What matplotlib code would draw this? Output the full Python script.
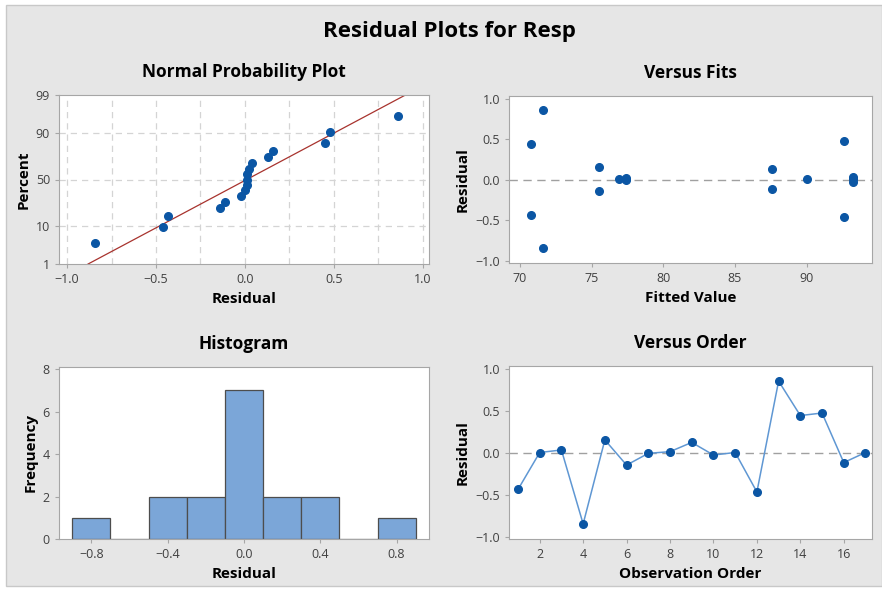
import numpy as np
import matplotlib
matplotlib.use('Agg')
import matplotlib.pyplot as plt
from matplotlib.patches import Rectangle
from statistics import NormalDist

plt.rcParams['font.family'] = ['Open Sans', 'DejaVu Sans']

# data
order = np.arange(1, 18)
resid = [-0.43, 0.01, 0.04, -0.84, 0.16, -0.14, 0.00, 0.02, 0.13,
         -0.02, 0.01, -0.46, 0.86, 0.45, 0.48, -0.11, 0.01]
fits = [70.8, 76.9, 93.2, 71.6, 75.5, 75.5, 77.4, 77.4, 87.6,
        93.2, 90.0, 92.6, 71.6, 70.8, 92.6, 87.6, 93.2]
pct_ticks = [1, 10, 50, 90, 99]
hist_bins = [-0.9, -0.7, -0.5, -0.3, -0.1, 0.1, 0.3, 0.5, 0.7, 0.9]

nd = NormalDist()
z = lambda p: nd.inv_cdf(p / 100.0)

bg = '#e6e6e6'
pt_col = '#0b56a4'
spine_col = '#a6a6a6'
tick_col = '#404040'

fig = plt.figure(figsize=(8.82, 5.89), dpi=100, facecolor='white')
fig.patches.append(Rectangle((6 / 882, 3 / 589), 1 - 6 / 882, 1 - 8 / 589,
                             transform=fig.transFigure, facecolor=bg,
                             edgecolor='#c8c8c8', lw=1, zorder=-1))

fig.text(0.509, 1 - 32 / 589, 'Residual Plots for Resp', ha='center', va='center',
         fontsize=16, fontweight='bold')


def style(ax):
    ax.set_facecolor('white')
    for s in ax.spines.values():
        s.set_color(spine_col)
    ax.tick_params(colors=spine_col, labelcolor=tick_col, labelsize=9, length=3)


def lab(ax, title, xl, yl):
    ax.set_title(title, fontsize=12.5, fontweight='bold', pad=13)
    ax.set_xlabel(xl, fontsize=11, fontweight='bold', labelpad=4)
    ax.set_ylabel(yl, fontsize=11, fontweight='bold', labelpad=4)


# Normal probability plot
ax1 = fig.add_axes([59 / 882, 1 - 264 / 589, 370 / 882, 169 / 589])
style(ax1)
r = np.sort(resid)
n = len(r)
ranks = (np.arange(1, n + 1) - 0.3) / (n + 0.4) * 100
mu, sd = np.mean(resid), np.std(resid, ddof=1)
for xv in np.arange(-1.0, 1.01, 0.25):
    ax1.axvline(xv, color='#d4d4d4', ls=(0, (5, 4)), lw=0.9, zorder=0)
for p in [10, 50, 90]:
    ax1.axhline(z(p), color='#d4d4d4', ls=(0, (5, 4)), lw=0.9, zorder=0)
lx = np.array([mu + sd * z(1), mu + sd * z(99)])
ax1.plot(lx, [z(1), z(99)], color='#a8332e', lw=0.9, zorder=2)
ax1.plot(r, [z(p) for p in ranks], 'o', color=pt_col, ms=5.5, zorder=3)
ax1.set_xlim(-1.045, 1.034)
ax1.set_ylim(z(1), z(99))
ax1.set_xticks([-1.0, -0.5, 0.0, 0.5, 1.0])
ax1.set_yticks([z(p) for p in pct_ticks])
ax1.set_yticklabels([str(p) for p in pct_ticks])
lab(ax1, 'Normal Probability Plot', 'Residual', 'Percent')

# Versus fits
ax2 = fig.add_axes([509 / 882, 1 - 263 / 589, 363 / 882, 167 / 589])
style(ax2)
ax2.axhline(0, color='#a0a0a0', ls=(0, (6, 4)), lw=1, zorder=0)
ax2.plot(fits, resid, 'o', color=pt_col, ms=5.5)
ax2.set_xlim(69.23, 94.56)
ax2.set_ylim(-1.025, 1.037)
ax2.set_xticks([70, 75, 80, 85, 90])
ax2.set_yticks([-1.0, -0.5, 0.0, 0.5, 1.0])
lab(ax2, 'Versus Fits', 'Fitted Value', 'Residual')

# Histogram
ax3 = fig.add_axes([59 / 882, 1 - 539 / 589, 370 / 882, 172 / 589])
style(ax3)
ax3.hist(resid, bins=hist_bins, color='#7ba6d8', edgecolor='#4d4d4d', lw=0.9)
ax3.set_xlim(-0.97, 0.97)
ax3.set_ylim(0, 8.1)
ax3.set_xticks([-0.8, -0.4, 0.0, 0.4, 0.8])
ax3.set_yticks([0, 2, 4, 6, 8])
lab(ax3, 'Histogram', 'Residual', 'Frequency')

# Versus order
ax4 = fig.add_axes([509 / 882, 1 - 539 / 589, 363 / 882, 173 / 589])
style(ax4)
ax4.axhline(0, color='#a0a0a0', ls=(0, (6, 4)), lw=1, zorder=0)
ax4.plot(order, resid, '-', color='#5f97d3', lw=1.1, zorder=2)
ax4.plot(order, resid, 'o', color=pt_col, ms=5.5, zorder=3)
ax4.set_xlim(0.586, 17.3)
ax4.set_ylim(-1.02, 1.04)
ax4.set_xticks(np.arange(2, 17, 2))
ax4.set_yticks([-1.0, -0.5, 0.0, 0.5, 1.0])
lab(ax4, 'Versus Order', 'Observation Order', 'Residual')

fig.savefig('out.png', dpi=100, facecolor=fig.get_facecolor())
